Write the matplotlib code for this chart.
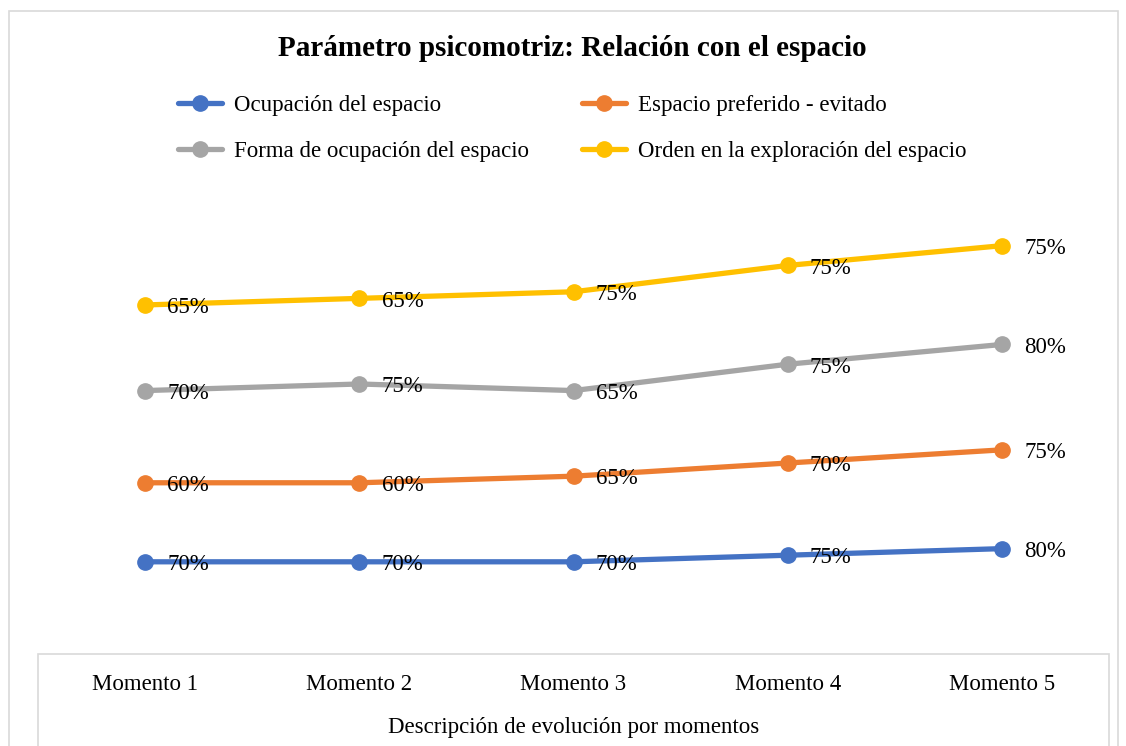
import matplotlib.pyplot as plt
import numpy as np
from matplotlib.patches import Rectangle

plt.rcParams['font.family'] = ['Liberation Serif', 'DejaVu Serif']

# datos
momentos = ['Momento 1', 'Momento 2', 'Momento 3', 'Momento 4', 'Momento 5']
ocupacion = [70, 70, 70, 75, 80]
preferido = [60, 60, 65, 70, 75]
forma = [70, 75, 65, 75, 80]
orden = [65, 65, 75, 75, 75]

series = [
    ('Ocupación del espacio', ocupacion, '#4472C4'),
    ('Espacio preferido - evitado', preferido, '#ED7D31'),
    ('Forma de ocupación del espacio', forma, '#A5A5A5'),
    ('Orden en la exploración del espacio', orden, '#FFC000'),
]

W, H = 1126, 746
fig = plt.figure(figsize=(W / 100, H / 100), dpi=100)

# eje: de x=38 a 1109 px, y=0 en 654 px
ax = fig.add_axes([38 / W, (H - 654) / H, (1109 - 38) / W, (654 - 193) / H])
ax.set_xlim(-0.5, 4.5)
ax.set_ylim(0, 350)

x = np.arange(len(momentos))
acumulado = np.zeros(len(momentos))
lineas = []
for nombre, valores, color in series:
    acumulado = acumulado + np.array(valores)
    l, = ax.plot(x, acumulado, color=color, lw=3.8, marker='o', ms=11,
                 label=nombre, solid_capstyle='round')
    lineas.append(l)
    for xi, yi, v in zip(x, acumulado, valores):
        ax.annotate(f'{v}%', (xi, yi), xytext=(16, -2), textcoords='offset points',
                    ha='left', va='center', fontsize=16.5, color='#000000')

for s in ax.spines.values():
    s.set_visible(False)
ax.set_xticks([])
ax.set_yticks([])

# caja del eje de categorías
fig.patches.append(Rectangle((38 / W, -0.05), (1109 - 38) / W, (H - 654) / H + 0.05,
                             transform=fig.transFigure, fill=False,
                             edgecolor='#D9D9D9', lw=1.2))
# borde exterior
fig.patches.append(Rectangle((9 / W, -0.05), (1118 - 9) / W, (H - 11) / H + 0.05,
                             transform=fig.transFigure, fill=False,
                             edgecolor='#D9D9D9', lw=1.2))

for xi, m in zip(x, momentos):
    fig.text((38 + (xi + 0.5) * (1071 / 5)) / W, 1 - 684 / H, m,
             ha='center', va='center', fontsize=16.5)
fig.text(574 / W, 1 - 727 / H, 'Descripción de evolución por momentos',
         ha='center', va='center', fontsize=16.5)

fig.text(572 / W, 1 - 49 / H, 'Parámetro psicomotriz: Relación con el espacio',
         ha='center', va='center', fontsize=21, fontweight='bold')

orden_leyenda = [0, 2, 1, 3]
fig.legend([lineas[i] for i in orden_leyenda], [series[i][0] for i in orden_leyenda],
           loc='upper center', bbox_to_anchor=(572 / W, 1 - 74 / H), ncol=2,
           frameon=False, fontsize=16.5, handlelength=1.95, labelspacing=1.1,
           columnspacing=2.3, handletextpad=0.5)

plt.savefig('out.png', dpi=100)
plt.close()
